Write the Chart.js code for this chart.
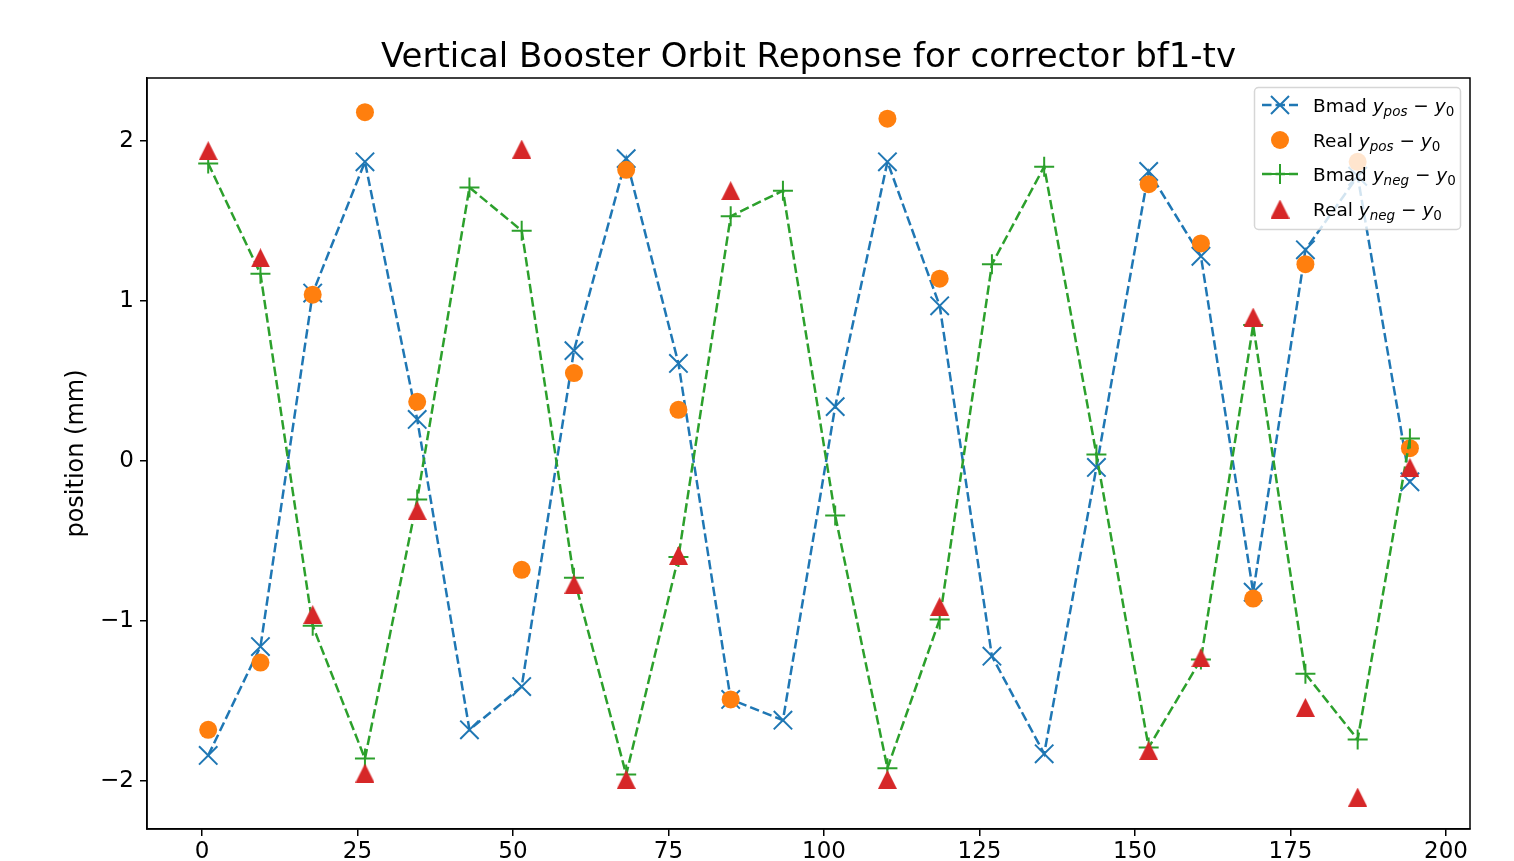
<!DOCTYPE html>
<html>
<head>
<meta charset="utf-8">
<title>Vertical Booster Orbit Reponse</title>
<script src="https://cdn.jsdelivr.net/npm/chart.js"></script>
<style>
  body { margin: 0; background: #fff; }
  #wrap { width: 1514px; height: 861px; }
</style>
</head>
<body>
<div id="wrap"><canvas id="chart" width="1514" height="861"></canvas></div>
<script>
// BPM positions along the ring
const bpmX = [1, 9.4, 17.8, 26.2, 34.6, 43, 51.4, 59.8, 68.2, 76.6, 85, 93.4,
  101.8, 110.2, 118.6, 127, 135.4, 143.8, 152.2, 160.6, 169, 177.4, 185.8, 194.2];

// model (Bmad) and measured (Real) orbit differences, mm. null = no reading
const bmadPos = [-1.84, -1.16, 1.05, 1.87, 0.26, -1.68, -1.41, 0.69, 1.89, 0.61, -1.49, -1.62,
  0.34, 1.87, 0.97, -1.22, -1.83, -0.04, 1.81, 1.28, -0.82, 1.32, 1.78, -0.13];
const realPos = [-1.68, -1.26, 1.04, 2.18, 0.37, null, -0.68, 0.55, 1.82, 0.32, -1.49, null,
  null, 2.14, 1.14, null, null, null, 1.73, 1.36, -0.86, 1.23, 1.87, 0.08];
const bmadNeg = [1.86, 1.17, -1.03, -1.86, -0.24, 1.71, 1.44, -0.73, -1.96, -0.60, 1.53, 1.69,
  -0.34, -1.92, -0.99, 1.23, 1.84, 0.04, -1.79, -1.24, 0.85, -1.33, -1.74, 0.14];
const realNeg = [1.94, 1.27, -0.96, -1.95, -0.31, null, 1.95, -0.77, -1.99, -0.59, 1.69, null,
  null, -1.99, -0.91, null, null, null, -1.81, -1.23, 0.90, -1.54, -2.10, -0.04];

const xTicks = [0, 25, 50, 75, 100, 125, 150, 175, 200];
const yTicks = [-2, -1, 0, 1, 2];

const FONT = "'DejaVu Sans', sans-serif";
const BLUE = '#1f77b4', ORANGE = '#ff7f0e', GREEN = '#2ca02c', RED = '#d62728';

function pts(ys) {
  const out = [];
  ys.forEach((y, i) => { if (y !== null) out.push({ x: bpmX[i], y: y }); });
  return out;
}

// matplotlib style '^' marker (centred on its box)
function makeTriangle(size, color) {
  const c = document.createElement('canvas');
  c.width = size; c.height = size;
  const g = c.getContext('2d');
  g.fillStyle = color;
  g.beginPath();
  g.moveTo(size / 2, 0);
  g.lineTo(size, size);
  g.lineTo(0, size);
  g.closePath();
  g.fill();
  return c;
}
const tri = makeTriangle(19, RED);

function minusFmt(v) {
  return v < 0 ? '\u2212' + Math.abs(v) : String(v);
}

// title, y label, frame and legend
const decor = {
  id: 'decor',
  afterDraw(chart) {
    const ctx = chart.ctx;
    const a = chart.chartArea;
    ctx.save();

    // frame
    ctx.strokeStyle = '#000';
    ctx.lineWidth = 1.5;
    ctx.strokeRect(a.left, a.top, a.right - a.left, a.bottom - a.top);

    // title
    ctx.fillStyle = '#000';
    ctx.font = '34px ' + FONT;
    ctx.textAlign = 'center';
    ctx.textBaseline = 'alphabetic';
    ctx.fillText('Vertical Booster Orbit Reponse for corrector bf1-tv', (a.left + a.right) / 2, 67);

    // y label
    ctx.save();
    ctx.translate(77, (a.top + a.bottom) / 2);
    ctx.rotate(-Math.PI / 2);
    ctx.font = '24px ' + FONT;
    ctx.textBaseline = 'middle';
    ctx.fillText('position (mm)', 0, 0);
    ctx.restore();

    // legend box
    const bx = 1254.5, by = 87.5, bw = 206, bh = 142, r = 4;
    ctx.beginPath();
    ctx.moveTo(bx + r, by);
    ctx.arcTo(bx + bw, by, bx + bw, by + bh, r);
    ctx.arcTo(bx + bw, by + bh, bx, by + bh, r);
    ctx.arcTo(bx, by + bh, bx, by, r);
    ctx.arcTo(bx, by, bx + bw, by, r);
    ctx.closePath();
    ctx.fillStyle = 'rgba(255,255,255,0.8)';
    ctx.fill();
    ctx.strokeStyle = 'rgba(204,204,204,0.8)';
    ctx.lineWidth = 1.5;
    ctx.stroke();

    const rows = [
      { y: 105, label: 'Bmad', sub: 'pos', line: BLUE, mark: 'x' },
      { y: 140, label: 'Real', sub: 'pos', line: null, mark: 'o' },
      { y: 174, label: 'Bmad', sub: 'neg', line: GREEN, mark: '+' },
      { y: 209, label: 'Real', sub: 'neg', line: null, mark: '^' }
    ];
    const mx = 1280;
    rows.forEach(row => {
      if (row.line) {
        ctx.strokeStyle = row.line;
        ctx.lineWidth = 2.5;
        ctx.setLineDash([9.5, 4]);
        ctx.beginPath();
        ctx.moveTo(1262, row.y);
        ctx.lineTo(1298, row.y);
        ctx.stroke();
        ctx.setLineDash([]);
      }
      ctx.lineWidth = 2;
      if (row.mark === 'x') {
        ctx.strokeStyle = BLUE;
        ctx.beginPath();
        ctx.moveTo(mx - 9, row.y - 9); ctx.lineTo(mx + 9, row.y + 9);
        ctx.moveTo(mx + 9, row.y - 9); ctx.lineTo(mx - 9, row.y + 9);
        ctx.stroke();
      } else if (row.mark === '+') {
        ctx.strokeStyle = GREEN;
        ctx.beginPath();
        ctx.moveTo(mx - 10, row.y); ctx.lineTo(mx + 10, row.y);
        ctx.moveTo(mx, row.y - 10); ctx.lineTo(mx, row.y + 10);
        ctx.stroke();
      } else if (row.mark === 'o') {
        ctx.fillStyle = ORANGE;
        ctx.beginPath();
        ctx.arc(mx, row.y, 9, 0, Math.PI * 2);
        ctx.fill();
      } else {
        ctx.drawImage(tri, mx - 9.5, row.y - 9.5);
      }

      // text with math subscripts
      ctx.fillStyle = '#000';
      ctx.textAlign = 'left';
      ctx.textBaseline = 'alphabetic';
      const base = row.y + 6.5;
      let tx = 1313;
      const runs = [
        [row.label + ' ', '18.5px ' + FONT, 0],
        ['y', 'italic 18.5px ' + FONT, 0],
        [row.sub, 'italic 13.5px ' + FONT, 4],
        [' \u2212 ', '18.5px ' + FONT, 0],
        ['y', 'italic 18.5px ' + FONT, 0],
        ['0', '13.5px ' + FONT, 4]
      ];
      runs.forEach(([t, f, dy]) => {
        ctx.font = f;
        ctx.fillText(t, tx, base + dy);
        tx += ctx.measureText(t).width;
      });
    });

    ctx.restore();
  }
};

new Chart(document.getElementById('chart'), {
  type: 'line',
  data: {
    datasets: [
      {
        label: 'Bmad ypos - y0',
        data: pts(bmadPos),
        order: 4,
        borderColor: BLUE,
        borderWidth: 2.5,
        borderDash: [9.5, 4],
        fill: false,
        tension: 0,
        pointStyle: 'crossRot',
        pointRadius: 13,
        pointBorderWidth: 2,
        pointBorderColor: BLUE,
        pointBackgroundColor: BLUE
      },
      {
        label: 'Real ypos - y0',
        data: pts(realPos),
        order: 3,
        showLine: false,
        pointStyle: 'circle',
        pointRadius: 9,
        pointBorderWidth: 0,
        pointBorderColor: ORANGE,
        pointBackgroundColor: ORANGE
      },
      {
        label: 'Bmad yneg - y0',
        data: pts(bmadNeg),
        order: 2,
        borderColor: GREEN,
        borderWidth: 2.5,
        borderDash: [9.5, 4],
        fill: false,
        tension: 0,
        pointStyle: 'cross',
        pointRadius: 10,
        pointBorderWidth: 2,
        pointBorderColor: GREEN,
        pointBackgroundColor: GREEN
      },
      {
        label: 'Real yneg - y0',
        data: pts(realNeg),
        order: 1,
        showLine: false,
        pointStyle: tri,
        pointRadius: 10
      }
    ]
  },
  options: {
    responsive: false,
    animation: false,
    events: [],
    layout: { padding: { top: 78, right: 44, bottom: 0, left: 0 } },
    plugins: {
      legend: { display: false },
      title: { display: false },
      tooltip: { enabled: false }
    },
    scales: {
      x: {
        type: 'linear',
        min: -8.84,
        max: 203.86,
        afterFit(s) { s.height = 32; },
        afterBuildTicks(s) { s.ticks = xTicks.map(v => ({ value: v })); },
        grid: { drawOnChartArea: false, drawTicks: true, tickLength: 7, color: '#000', lineWidth: 1.5 },
        border: { display: true, color: '#000', width: 1.5 },
        ticks: {
          color: '#000',
          font: { family: FONT, size: 23 },
          padding: 2,
          maxRotation: 0,
          autoSkip: false,
          callback: minusFmt
        }
      },
      y: {
        type: 'linear',
        min: -2.3,
        max: 2.394,
        afterFit(s) { s.width = 147; },
        afterBuildTicks(s) { s.ticks = yTicks.map(v => ({ value: v })); },
        grid: { drawOnChartArea: false, drawTicks: true, tickLength: 7, color: '#000', lineWidth: 1.5 },
        border: { display: true, color: '#000', width: 1.5 },
        ticks: {
          color: '#000',
          font: { family: FONT, size: 23 },
          padding: 6,
          autoSkip: false,
          callback: minusFmt
        }
      }
    }
  },
  plugins: [decor]
});
</script>
</body>
</html>
